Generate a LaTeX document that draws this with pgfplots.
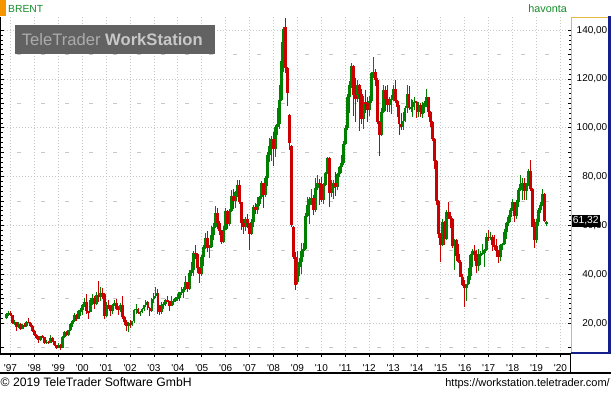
\documentclass[border=0pt]{standalone}
\usepackage{fontspec}
\setmainfont{Liberation Sans}
\newfontfamily\lf{Liberation Sans}
\usepackage{pgfplots}
\usepackage{pgfplotstable}
\pgfplotsset{compat=1.18}
\definecolor{cgreen}{RGB}{0,128,0}
\definecolor{cred}{RGB}{204,0,0}
\definecolor{tgreen}{RGB}{20,140,40}
\definecolor{gridc}{RGB}{200,200,200}
\definecolor{logobg}{RGB}{98,98,98}
\definecolor{logoa}{RGB}{172,172,172}
\definecolor{logob}{RGB}{200,200,200}
\definecolor{panelY}{RGB}{232,184,70}
\definecolor{panelB}{RGB}{20,30,140}
\definecolor{obar}{RGB}{245,150,0}

\pgfplotstableread{
m o h l c
-2 22.2 24.0 21.8 23.6
-1 23.6 25.2 23.0 24.3
0 24.3 25.0 22.8 23.3
1 23.3 23.5 19.8 20.0
2 20.0 21.3 19.3 20.5
3 20.5 20.7 16.9 18.3
4 18.3 20.5 18.0 19.7
5 19.7 19.9 17.3 17.8
6 17.8 19.6 17.6 19.2
7 19.2 20.0 18.3 18.9
8 18.9 20.9 18.6 20.6
9 20.6 22.0 20.1 20.3
10 20.3 20.6 18.5 18.8
11 18.8 19.1 16.6 17.0
12 17.0 17.2 14.9 15.3
13 15.3 15.6 13.4 13.8
14 13.8 14.9 11.9 13.2
15 13.2 14.9 12.9 14.6
16 14.6 15.3 13.8 14.3
17 14.3 14.4 11.5 12.0
18 12.0 13.0 11.6 12.3
19 12.3 12.6 11.3 12.0
20 12.0 15.0 11.8 14.0
21 14.0 14.3 12.3 12.6
22 12.6 12.9 10.6 10.9
23 10.9 11.2 9.5 10.0
24 10.0 12.0 9.9 11.2
25 11.2 11.4 9.2 10.0
26 10.0 14.9 9.9 14.5
27 14.5 16.8 14.1 16.5
28 16.5 16.9 14.8 15.3
29 15.3 17.4 14.9 17.2
30 17.2 20.3 17.0 19.8
31 19.8 21.2 18.6 20.8
32 20.8 24.3 20.5 23.5
33 23.5 23.8 20.8 21.9
34 21.9 25.6 21.7 25.0
35 25.0 26.1 23.1 25.4
36 25.4 27.8 23.2 27.3
37 27.3 30.3 26.6 28.6
38 28.6 32.0 23.8 24.9
39 24.9 25.2 21.7 24.6
40 24.6 30.4 24.4 29.5
41 29.5 31.9 27.4 30.2
42 30.2 31.0 26.0 27.7
43 27.7 32.6 27.4 31.5
44 31.5 37.4 28.8 30.6
45 30.6 35.0 29.3 32.5
46 32.5 34.6 30.0 32.0
47 32.0 32.2 21.6 23.0
48 23.0 28.5 22.6 27.5
49 27.5 29.6 26.0 27.0
50 27.0 27.5 23.1 25.0
51 25.0 28.0 23.8 27.3
52 27.3 29.6 26.9 28.4
53 28.4 29.9 25.6 25.8
54 25.8 26.9 23.5 25.5
55 25.5 28.1 24.5 27.3
56 27.3 31.0 21.7 22.5
57 22.5 22.8 19.2 20.4
58 20.4 21.5 16.8 18.8
59 18.8 20.6 16.5 19.9
60 19.9 21.2 18.1 19.6
61 19.6 21.0 18.9 20.8
62 20.8 26.0 20.2 25.6
63 25.6 27.7 23.8 25.9
64 25.9 26.4 23.6 24.0
65 24.0 25.1 22.9 24.7
66 24.7 26.4 24.0 25.9
67 25.9 27.5 24.9 27.4
68 27.4 29.6 26.8 28.8
69 28.8 29.2 25.6 26.4
70 26.4 26.6 22.9 24.9
71 24.9 30.3 24.6 30.0
72 30.0 32.5 28.4 31.3
73 31.3 34.9 30.2 32.2
74 32.2 34.0 23.6 26.9
75 26.9 27.4 23.3 24.5
76 24.5 28.6 23.7 27.5
77 27.5 28.6 25.8 28.0
78 28.0 29.8 27.0 29.4
79 29.4 31.3 28.6 29.0
80 29.0 29.3 25.0 27.0
81 27.0 31.0 26.9 28.7
82 28.7 29.9 27.6 29.3
83 29.3 30.8 28.6 30.2
84 30.2 32.0 29.1 30.4
85 30.4 32.6 28.9 32.6
86 32.6 34.7 31.5 32.8
87 32.8 34.9 30.5 34.0
88 34.0 39.2 33.8 36.7
89 36.7 37.0 32.7 34.0
90 34.0 41.6 33.8 40.6
91 40.6 45.0 39.2 41.8
92 41.8 49.7 39.3 48.8
93 48.8 52.0 46.5 48.4
94 48.4 48.6 40.6 42.8
95 42.8 43.2 36.6 40.0
96 40.0 47.8 39.4 47.0
97 47.0 51.9 43.3 51.2
98 51.2 57.0 50.6 55.0
99 55.0 57.6 49.2 51.0
100 51.0 52.0 46.9 51.3
101 51.3 59.8 50.8 56.0
102 56.0 61.0 54.2 59.3
103 59.3 68.0 59.0 65.1
104 65.1 67.3 58.7 61.0
105 61.0 62.0 56.0 57.6
106 57.6 58.0 52.3 53.3
107 53.3 59.7 53.0 58.2
108 58.2 67.2 58.0 65.8
109 65.8 66.4 58.5 60.8
110 60.8 66.7 59.7 66.0
111 66.0 74.4 65.6 72.2
112 72.2 74.9 66.6 69.9
113 69.9 74.1 67.3 73.6
114 73.6 78.6 71.5 76.5
115 76.5 78.6 69.0 69.6
116 69.6 69.8 58.3 61.2
117 61.2 62.8 56.4 59.3
118 59.3 63.3 57.6 62.8
119 62.8 64.8 58.9 60.9
120 60.9 61.1 50.0 56.5
121 56.5 62.5 56.0 61.6
122 61.6 68.3 59.5 67.8
123 67.8 69.2 64.9 66.5
124 66.5 71.5 64.8 68.9
125 68.9 72.2 68.0 71.5
126 71.5 78.4 70.9 77.3
127 77.3 77.6 67.1 72.5
128 72.5 80.2 71.5 79.5
129 79.5 90.0 76.0 88.8
130 88.8 96.0 86.2 92.5
131 92.5 96.5 86.5 95.5
132 95.5 98.5 84.3 91.5
133 91.5 101.0 88.0 100.3
134 100.3 108.0 97.2 101.5
135 101.5 117.6 99.6 111.5
136 111.5 135.1 110.8 127.5
137 127.5 141.5 122.8 140.3
138 141.5 144.9 122.4 124.4
139 124.4 124.8 109.0 114.2
140 105.3 105.6 91.0 93.7
141 92.6 93.0 59.5 60.2
142 59.5 59.8 46.5 47.2
143 47.2 49.0 33.6 35.8
144 37.0 49.5 36.0 43.0
145 43.0 46.7 39.5 45.0
146 45.0 53.0 40.0 49.5
147 49.5 53.0 47.0 50.5
148 50.5 65.0 50.0 64.0
149 64.0 71.5 63.5 68.5
150 68.5 71.5 60.5 71.0
151 71.0 75.0 68.5 71.3
152 71.3 72.5 64.5 66.5
153 66.5 79.5 65.5 75.5
154 75.5 80.5 74.5 77.5
155 77.5 79.0 68.5 77.0
156 77.0 80.0 69.5 70.5
157 70.5 77.5 69.0 76.5
158 76.5 82.0 76.0 81.5
159 81.5 88.0 81.0 87.5
160 87.5 88.2 67.5 73.5
161 73.5 78.5 71.5 75.5
162 75.5 78.5 71.0 77.5
163 77.5 82.0 72.0 75.8
164 75.8 81.5 74.5 81.0
165 81.0 84.5 80.0 83.8
166 83.8 89.0 81.5 85.5
167 85.5 94.5 85.0 93.5
168 93.5 101.2 93.0 100.0
169 100.0 114.0 99.0 112.8
170 112.8 119.0 106.0 117.5
171 117.5 126.7 116.5 125.5
172 125.5 125.9 105.0 113.5
173 113.5 120.5 102.5 112.0
174 112.0 119.5 110.5 117.5
175 117.5 118.0 98.7 114.0
176 114.0 116.0 101.5 103.5
177 103.5 113.0 99.5 110.5
178 110.5 115.5 106.0 110.0
179 110.0 112.5 102.5 107.5
180 107.5 113.0 105.0 111.0
181 111.0 123.0 110.0 122.5
182 122.5 128.9 120.5 123.0
183 123.0 124.0 117.0 119.5
184 119.5 120.5 101.5 102.5
185 102.5 103.0 88.6 97.0
186 97.0 108.0 96.5 106.5
187 106.5 117.5 106.0 115.5
188 115.5 117.0 107.0 112.0
189 112.0 117.5 106.5 109.5
190 109.5 112.5 106.5 111.5
191 111.5 113.5 105.5 112.0
192 112.0 117.5 111.0 116.0
193 116.0 119.6 110.0 111.0
194 111.0 111.5 104.5 108.5
195 108.5 109.5 97.1 101.5
196 101.5 106.0 99.0 100.5
197 100.5 106.5 99.0 103.0
198 103.0 109.0 102.5 108.0
199 108.0 117.6 106.0 114.0
200 114.0 117.0 107.5 108.0
201 108.0 112.0 106.5 108.5
202 108.5 111.5 104.5 110.5
203 110.5 112.5 107.5 110.6
204 110.6 110.8 104.0 106.5
205 106.5 110.5 104.5 109.5
206 109.5 110.0 104.5 105.5
207 105.5 110.5 104.0 108.5
208 108.5 111.0 106.0 110.0
209 110.0 115.9 108.5 112.5
210 112.5 112.8 104.5 106.5
211 106.5 107.0 100.5 102.5
212 102.5 102.8 94.5 95.5
213 95.5 96.0 83.0 86.5
214 86.5 87.0 68.4 70.0
215 70.0 70.5 55.0 56.5
216 56.5 57.0 45.2 52.0
217 52.0 62.5 51.5 61.5
218 61.5 62.0 52.0 54.5
219 54.5 66.5 54.0 65.5
220 65.5 69.8 62.5 64.0
221 64.0 65.5 59.0 62.5
222 62.5 63.0 51.0 51.5
223 51.5 54.5 42.0 54.0
224 54.0 54.3 45.5 47.5
225 48.5 52.5 44.8 45.2
226 45.2 46.0 38.8 39.0
227 39.0 40.0 35.2 35.6
228 35.6 37.5 26.7 34.5
229 34.5 36.0 29.0 36.0
230 36.0 42.5 35.5 39.5
231 39.5 48.5 37.5 47.9
232 47.9 50.5 43.0 49.5
233 49.5 52.0 45.5 48.5
234 48.5 50.0 40.5 43.4
235 43.4 50.5 41.5 47.5
236 47.5 49.5 44.0 48.5
237 48.5 52.5 48.0 48.7
238 48.7 50.5 43.0 50.0
239 50.0 56.8 49.5 55.5
240 55.5 58.0 53.5 55.0
241 55.0 57.5 54.0 55.5
242 55.5 56.0 49.5 52.0
243 52.0 56.0 50.0 51.5
244 51.5 54.5 47.0 49.5
245 49.5 50.0 44.5 47.0
246 47.0 52.5 45.5 52.0
247 52.0 53.0 50.0 52.5
248 52.5 58.5 52.0 57.5
249 57.5 61.5 54.5 61.0
250 61.0 64.5 60.0 63.5
251 63.5 67.0 61.5 66.5
252 66.5 71.0 66.0 69.5
253 69.5 69.8 61.5 64.0
254 64.0 70.5 62.5 69.5
255 69.5 75.5 67.5 74.5
256 74.5 80.5 74.0 77.0
257 77.0 79.5 70.5 77.5
258 77.5 79.5 70.5 74.0
259 74.0 77.5 70.5 77.0
260 77.0 83.0 76.0 82.5
261 82.5 86.8 74.0 75.0
262 75.0 75.5 59.5 59.5
263 59.5 62.5 50.7 54.0
264 54.0 62.5 53.0 61.5
265 61.5 67.0 60.0 66.5
266 66.5 69.5 65.0 68.5
267 68.5 74.8 68.0 72.9
268 72.9 73.5 61.5 62.0
269 61.0 62.0 60.0 61.32
}\brent

\begin{document}
\begin{tikzpicture}
\useasboundingbox (0,0) rectangle (611pt,392pt);
\begin{axis}[
  at={(1pt,38pt)}, anchor=south west,
  width=569.5pt, height=337pt, scale only axis,
  xmin=-4.77, xmax=281.05, ymin=7.4, ymax=145.4,
  axis line style={draw=none},
  xtick={0,12,...,276},
  xticklabels={'97,'98,'99,'00,'01,'02,'03,'04,'05,'06,'07,'08,'09,'10,'11,'12,'13,'14,'15,'16,'17,'18,'19,'20},
  xtick pos=left, xtick align=outside,
  ytick={20,40,...,140},
  yticklabels={{20,00},{40,00},{60,00},{80,00},{100,00},{120,00},{140,00}},
  ytick pos=both, ytick align=inside, yticklabel pos=right,
  minor y tick num=9,
  major tick length=3pt, minor tick length=2pt,
  tick style={black, line width=0.8pt},
  xmajorgrids, ymajorgrids,
  major grid style={gridc, dash pattern=on 1pt off 2pt, line width=0.8pt},
  extra y ticks={10,30,50,70,90,110,130},
  extra y tick labels={},
  extra y tick style={grid=major, major grid style={gridc, dash pattern=on 4pt off 20pt, dash phase=8pt, line width=0.8pt}},
  ticklabel style={font=\lf\fontsize{10}{12}\selectfont, text=black},
  xticklabel style={anchor=base, yshift=-14.3pt},
  yticklabel style={anchor=east, inner sep=0pt, xshift=37pt},
  every axis plot/.append style={draw=none, mark=none},
]
% wicks
\addplot[draw=none, mark=none,
  restrict expr to domain={\thisrow{c}-\thisrow{o}}{0:1000},
  error bars/.cd, y dir=both, y explicit, error mark=none,
  error bar style={draw=cgreen, line width=1pt, solid}]
  table[x=m, y expr={(\thisrow{h}+\thisrow{l})/2}, y error expr={(\thisrow{h}-\thisrow{l})/2}] {\brent};
\addplot[draw=none, mark=none,
  restrict expr to domain={\thisrow{c}-\thisrow{o}}{-1000:-0.0001},
  error bars/.cd, y dir=both, y explicit, error mark=none,
  error bar style={draw=cred, line width=1pt, solid}]
  table[x=m, y expr={(\thisrow{h}+\thisrow{l})/2}, y error expr={(\thisrow{h}-\thisrow{l})/2}] {\brent};
% bodies
\addplot[draw=none, mark=none,
  restrict expr to domain={\thisrow{c}-\thisrow{o}}{0:1000},
  error bars/.cd, y dir=both, y explicit, error mark=none,
  error bar style={draw=cgreen, line width=2.9pt, solid}]
  table[x=m, y expr={(\thisrow{o}+\thisrow{c})/2}, y error expr={max(abs(\thisrow{c}-\thisrow{o})/2,0.25)}] {\brent};
\addplot[draw=none, mark=none,
  restrict expr to domain={\thisrow{c}-\thisrow{o}}{-1000:-0.0001},
  error bars/.cd, y dir=both, y explicit, error mark=none,
  error bar style={draw=cred, line width=2.9pt, solid}]
  table[x=m, y expr={(\thisrow{o}+\thisrow{c})/2}, y error expr={max(abs(\thisrow{c}-\thisrow{o})/2,0.25)}] {\brent};
\end{axis}

\begin{scope}[x=1pt, y=-1pt, shift={(0pt,392pt)}]
  % frame lines
  \draw[black, line width=1pt] (0.5,17) -- (0.5,354);
  \draw[black, line width=2pt] (0,354.3) -- (570.5,354.3);
  \draw[black, line width=1.2pt] (570.5,354.3) -- (570.5,373.3);
  \draw[black, line width=2pt] (0,373.3) -- (611,373.3);
  % right price panel borders
  \draw[panelY, line width=1pt] (571.3,353) -- (571.3,17.5) -- (608,17.5);
  \draw[panelB, line width=2.5pt] (609.7,16.5) -- (609.7,354.3);
  \draw[panelB, line width=2pt] (571,353.3) -- (611,353.3);
  % header
  \fill[obar] (0,0) rectangle (6,16.5);
  \node[anchor=base west, inner sep=0pt, text=tgreen, font=\lf\fontsize{10.3}{12}\selectfont] at (8,12.7) {BRENT};
  \node[anchor=base east, inner sep=0pt, text=tgreen, font=\lf\fontsize{10.8}{12}\selectfont] at (567,12.7) {havonta};
  % logo
  \fill[logobg] (15,25) rectangle (215,54);
  \node[anchor=base west, inner sep=0pt, font=\lf\fontsize{16.6}{18}\selectfont] at (21.7,45.7) {\textcolor{logoa}{TeleTrader} \textcolor{logob}{\bfseries WorkStation}};
  % last price box
  \fill[black] (572,214.5) rectangle (599.5,226.8);
  \node[text=white, inner sep=0pt, font=\lf\fontsize{10.3}{12}\selectfont] at (585.8,220.9) {61,32};
  % footer
  \node[anchor=base west, inner sep=0pt, font=\lf\fontsize{12.2}{14}\selectfont] at (0.5,386.7) {© 2019 TeleTrader Software GmbH};
  \node[anchor=base east, inner sep=0pt, font=\lf\fontsize{11}{13}\selectfont] at (610,386.3) {https://workstation.teletrader.com/};
\end{scope}
\end{tikzpicture}
\end{document}
